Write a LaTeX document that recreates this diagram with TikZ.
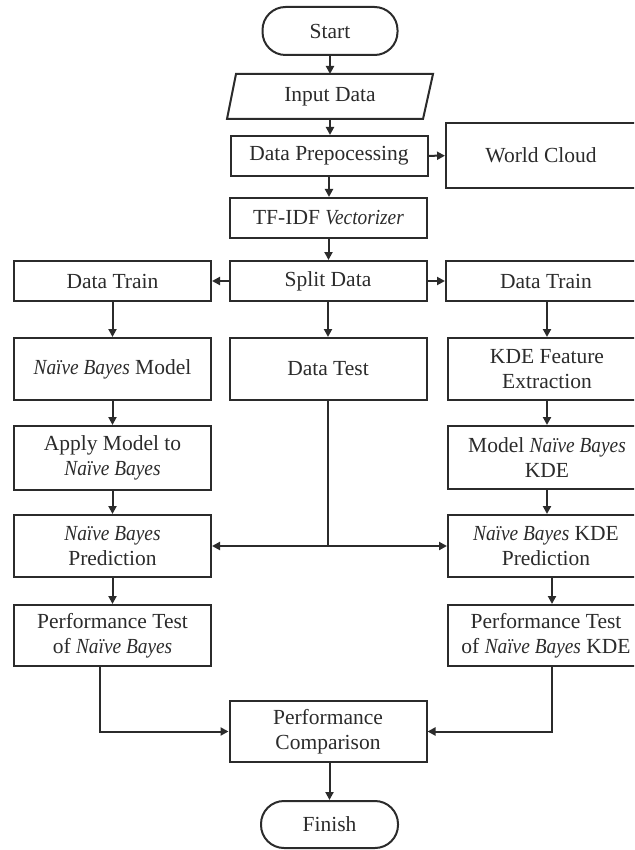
\documentclass[tikz,border=0pt]{standalone}
\usepackage{fontspec}
\setmainfont{Liberation Serif}[ItalicFeatures={FakeStretch=0.9}]
\usetikzlibrary{arrows.meta,calc}
\definecolor{ink}{HTML}{2B2B2B}
\tikzset{
  base/.style={draw=ink, line width=2pt, text=ink, align=center, inner sep=2pt,
    font=\fontsize{21.5}{25}\selectfont},
  box/.style={base, rectangle},
  term/.style={base, rounded corners=23pt},
  io/.style={base, draw=none},
  flow/.style={draw=ink, line width=2pt, -{Triangle[length=8pt,width=8pt]}},
  plain/.style={draw=ink, line width=2pt},
}
\begin{document}
\begin{tikzpicture}[x=1pt, y=-1pt]
  \useasboundingbox (0,0) rectangle (634,850);
  \clip (0,0) rectangle (634,850);

  % terminals and input
  \node[term, minimum width=135pt, minimum height=48pt] (start) at (330,31) {Start};
  \node[io, minimum width=204pt, minimum height=43pt] (input) at (330,96.5) {Input Data};
  \draw[plain] ([xshift=9pt]input.north west) -- (input.north east)
    -- ([xshift=-10pt]input.south east) -- (input.south west) -- cycle;

  % preprocessing chain
  \node[box, minimum width=197pt, minimum height=40pt] (prep) at (329,156) {Data Prepocessing};
  \node[box, minimum width=190pt, minimum height=65pt] (cloud) at (541,155.5) {World Cloud};
  \node[box, minimum width=197pt, minimum height=40pt] (tfidf) at (328.5,218) {TF-IDF \textit{Vectorizer}};
  \node[box, minimum width=197pt, minimum height=40pt] (split) at (328,281) {Split Data};

  % left branch
  \node[box, minimum width=197pt, minimum height=40pt] (trainL) at (112.5,281) {Data Train};
  \node[box, minimum width=197pt, minimum height=62pt] (nbModel) at (112.5,369) {\textit{Naïve Bayes} Model};
  \node[box, minimum width=197pt, minimum height=64pt] (apply) at (112.5,458) {Apply Model to\\\textit{Naïve Bayes}};
  \node[box, minimum width=197pt, minimum height=62pt] (nbPred) at (112.5,546) {\textit{Naïve Bayes}\\Prediction};
  \node[box, minimum width=197pt, minimum height=61pt] (perfL) at (112.5,635.5) {Performance Test\\of \textit{Naïve Bayes}};

  % middle
  \node[box, minimum width=197pt, minimum height=62pt] (test) at (328,369) {Data Test};
  \node[box, minimum width=197pt, minimum height=61pt] (compare) at (328,731.5) {Performance\\Comparison};
  \node[term, minimum width=137pt, minimum height=47pt] (finish) at (329.5,824.5) {Finish};

  % right branch
  \node[box, minimum width=200pt, minimum height=40pt] (trainR) at (546,281) {Data Train};
  \node[box, minimum width=198pt, minimum height=62pt] (kde) at (547,369) {KDE Feature\\Extraction};
  \node[box, minimum width=198pt, minimum height=63pt] (kdeModel) at (547,457.5) {Model \textit{Naïve Bayes}\\KDE};
  \node[box, minimum width=196pt, minimum height=62pt] (kdePred) at (546,546) {\textit{Naïve Bayes} KDE\\Prediction};
  \node[box, minimum width=196pt, minimum height=61pt] (perfR) at (546,635.5) {Performance Test\\of \textit{Naïve Bayes} KDE};

  % connectors
  \draw[flow] (start.south) -- (start.south |- input.north);
  \draw[flow] (input.south) -- (input.south |- prep.north);
  \draw[flow] (prep) -- (cloud);
  \draw[flow] (prep.south) -- (prep.south |- tfidf.north);
  \draw[flow] (tfidf.south) -- (tfidf.south |- split.north);
  \draw[flow] (split) -- (trainL);
  \draw[flow] (split) -- (trainR);
  \draw[flow] (split) -- (test);
  \draw[flow] (trainL) -- (nbModel);
  \draw[flow] (nbModel) -- (apply);
  \draw[flow] (apply) -- (nbPred);
  \draw[flow] (nbPred) -- (perfL);
  \draw[flow] (trainR.south -| kde.north) -- (kde);
  \draw[flow] (kde) -- (kdeModel);
  \draw[flow] (kdeModel) -- (kdePred.north -| kdeModel.south);
  \draw[flow] ([xshift=6pt]kdePred.south) -- ([xshift=6pt]perfR.north);

  \coordinate (join) at (test.south |- nbPred.east);
  \draw[plain] (test.south) -- (join);
  \draw[flow] (join) -- (nbPred.east);
  \draw[flow] (join) -- (kdePred.west);

  \draw[flow] ([xshift=-12.5pt]perfL.south) |- (compare.west);
  \draw[flow] ([xshift=6pt]perfR.south) |- (compare.east);
  \draw[flow] (compare.south -| finish.north) -- (finish);
\end{tikzpicture}
\end{document}
